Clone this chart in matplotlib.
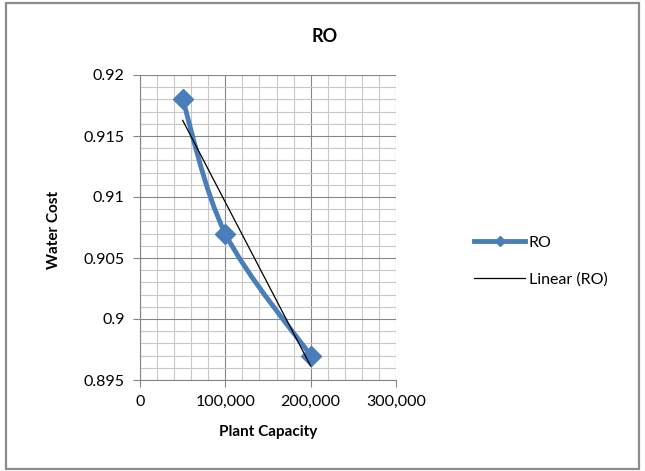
import matplotlib
matplotlib.use('Agg')
import matplotlib.pyplot as plt
from matplotlib.path import Path
from matplotlib.patches import PathPatch, Rectangle
from matplotlib.ticker import MultipleLocator, FuncFormatter
import numpy as np

capacity = [50000, 100000, 200000]
water_cost = [0.918, 0.907, 0.897]
series_name = 'RO'
trend_name = 'Linear (RO)'

blue = '#4a7ebb'

plt.rcParams['font.family'] = ['Lato', 'DejaVu Sans']

fig = plt.figure(figsize=(6.45, 4.71), dpi=100)
ax = fig.add_axes([140 / 645, 1 - 380 / 471, 256 / 645, 305 / 471])

# outer chart border
fig.patches.append(Rectangle((6 / 645, 2 / 471), 633 / 645, 466 / 471,
                             transform=fig.transFigure, fill=False,
                             edgecolor='#8c8c8c', linewidth=1.6))

# smoothed line (Catmull-Rom style bezier through the data points)
x = np.array(capacity, dtype=float)
y = np.array(water_cost)
verts = [(x[0], y[0])]
codes = [Path.MOVETO]
n = len(x)
for i in range(n - 1):
    p0 = (x[max(i - 1, 0)], y[max(i - 1, 0)])
    p1 = (x[i], y[i])
    p2 = (x[i + 1], y[i + 1])
    p3 = (x[min(i + 2, n - 1)], y[min(i + 2, n - 1)])
    c1 = (p1[0] + (p2[0] - p0[0]) / 6, p1[1] + (p2[1] - p0[1]) / 6)
    c2 = (p2[0] - (p3[0] - p1[0]) / 6, p2[1] - (p3[1] - p1[1]) / 6)
    verts += [c1, c2, p2]
    codes += [Path.CURVE4] * 3
ax.add_patch(PathPatch(Path(verts, codes), fill=False, edgecolor=blue,
                       linewidth=3.5, capstyle='round', zorder=3))
ax.plot(capacity, water_cost, linestyle='none', marker='D', markersize=10,
        color=blue, zorder=4)

# linear trendline
k, b = np.polyfit(x, y, 1)
tx = np.array([x[0], x[-1]])
ax.plot(tx, k * tx + b, color='black', linewidth=0.9, zorder=5)

# legend handles
ax.plot([], [], color=blue, linewidth=3.5, marker='D', markersize=5,
        label=series_name)
ax.plot([], [], color='black', linewidth=0.9, label=trend_name)
handles, labels = ax.get_legend_handles_labels()
fig.legend(handles, labels, loc='center left',
           bbox_to_anchor=(460 / 645, 1 - 261 / 471), frameon=False,
           fontsize=11.5, handlelength=3.2, handletextpad=0.2,
           labelspacing=1.4)

ax.set_xlim(0, 300000)
ax.set_ylim(0.895, 0.92)
ax.xaxis.set_major_locator(MultipleLocator(100000))
ax.xaxis.set_minor_locator(MultipleLocator(20000))
ax.yaxis.set_major_locator(MultipleLocator(0.005))
ax.yaxis.set_minor_locator(MultipleLocator(0.001))
ax.xaxis.set_major_formatter(FuncFormatter(lambda v, p: f'{v:,.0f}'))
ax.yaxis.set_major_formatter(FuncFormatter(lambda v, p: f'{v:g}'))

ax.grid(which='major', color='#868686', linewidth=0.8)
ax.grid(which='minor', color='#c8c8c8', linewidth=0.8)
ax.set_axisbelow(True)
for side in ['top', 'right']:
    ax.spines[side].set_visible(False)
for side in ['left', 'bottom']:
    ax.spines[side].set_color('#868686')
ax.tick_params(which='major', length=5, color='#868686', labelsize=11.5,
               pad=6)
ax.tick_params(which='minor', length=0)

fig.text(325 / 645, 1 - 36 / 471, 'RO', fontsize=13, fontweight='bold',
         ha='center', va='center')
ax.set_xlabel('Plant Capacity', fontsize=11, fontweight='bold')
ax.xaxis.set_label_coords(268 / 645, 1 - 425 / 471, transform=fig.transFigure)
ax.set_ylabel('Water Cost', fontsize=11, fontweight='bold')
ax.yaxis.set_label_coords(61 / 645, 1 - 230 / 471, transform=fig.transFigure)

fig.savefig('out.png', dpi=100)
